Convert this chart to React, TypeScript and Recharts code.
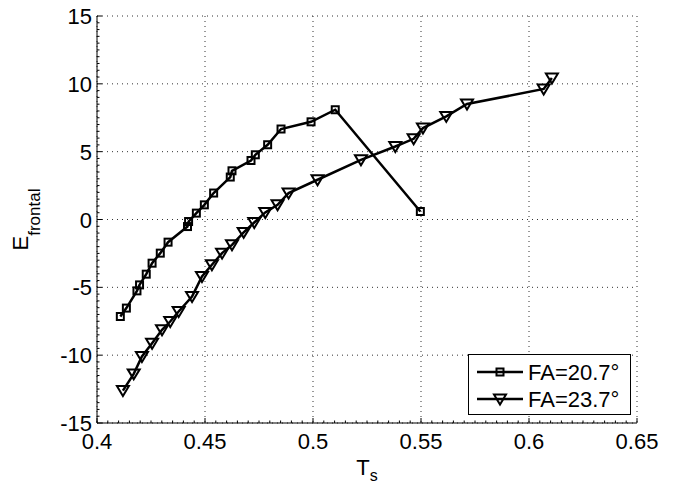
import { LineChart, Line, XAxis, YAxis, CartesianGrid, Legend, Label } from "recharts";

const FONT = "'Liberation Sans', Arial, Helvetica, sans-serif";

// FA = 20.7° series (squares)
const fa207X = [0.4108, 0.4136, 0.4185, 0.4197, 0.4228, 0.4255, 0.4293, 0.4329, 0.4419, 0.4424, 0.446, 0.4497, 0.454, 0.4617, 0.4625, 0.4713, 0.4733, 0.479, 0.4852, 0.4991, 0.5103, 0.5497];
const fa207Y = [-7.15, -6.53, -5.26, -4.82, -4.03, -3.22, -2.48, -1.67, -0.52, -0.15, 0.47, 1.08, 1.95, 3.13, 3.59, 4.35, 4.77, 5.51, 6.67, 7.2, 8.09, 0.59];

// FA = 23.7° series (down triangles)
const fa237X = [0.412, 0.417, 0.4208, 0.4255, 0.4301, 0.4339, 0.4378, 0.444, 0.4486, 0.4532, 0.4579, 0.4625, 0.4679, 0.4728, 0.4779, 0.4836, 0.4887, 0.5021, 0.5222, 0.5381, 0.5466, 0.5509, 0.5617, 0.5713, 0.6068, 0.6106];
const fa237Y = [-12.61, -11.38, -10.1, -9.12, -8.13, -7.52, -6.78, -5.68, -4.2, -3.34, -2.48, -1.87, -0.95, -0.22, 0.52, 1.08, 1.95, 2.93, 4.4, 5.38, 5.95, 6.74, 7.6, 8.51, 9.62, 10.43];

const seriesNames = ["FA=20.7°", "FA=23.7°"];

const xMajor = [0.4, 0.45, 0.5, 0.55, 0.6, 0.65];
const xLabels = ["0.4", "0.45", "0.5", "0.55", "0.6", "0.65"];
const yMajor = [-15, -10, -5, 0, 5, 10, 15];
const yLabels = ["-15", "-10", "-5", "0", "5", "10", "15"];

// minor ticks, matlab style (10 per major interval)
const xMinor = Array.from({ length: 51 }, (_, i) => +(0.4 + i * 0.005).toFixed(4));
const yMinor = Array.from({ length: 61 }, (_, i) => -15 + i * 0.5);

const fa207 = fa207X.map((x, i) => ({ x, y: fa207Y[i] }));
const fa237 = fa237X.map((x, i) => ({ x, y: fa237Y[i] }));

const majorIndex = (list: number[], v: number) => list.findIndex((m) => Math.abs(m - v) < 1e-6);

function XTick({ x, y, payload }: any) {
  const i = majorIndex(xMajor, payload.value);
  return (
    <g>
      <line x1={x} x2={x} y1={y} y2={y - (i >= 0 ? 5 : 2.5)} stroke="#000" strokeWidth={1} />
      {i >= 0 && (
        <text x={x} y={y + 26} textAnchor="middle" fontSize={22} fontFamily={FONT} fill="#000">
          {xLabels[i]}
        </text>
      )}
    </g>
  );
}

function YTick({ x, y, payload }: any) {
  const i = majorIndex(yMajor, payload.value);
  return (
    <g>
      <line x1={x} x2={x + (i >= 0 ? 5 : 2.5)} y1={y} y2={y} stroke="#000" strokeWidth={1} />
      {i >= 0 && (
        <text x={x - 5} y={y + 8} textAnchor="end" fontSize={22} fontFamily={FONT} fill="#000">
          {yLabels[i]}
        </text>
      )}
    </g>
  );
}

function SquareDot({ cx, cy }: any) {
  if (cx == null || cy == null) return null;
  return <rect x={cx - 3.5} y={cy - 3.5} width={7} height={7} fill="none" stroke="#000" strokeWidth={2} />;
}

function TriDot({ cx, cy }: any) {
  if (cx == null || cy == null) return null;
  return (
    <path
      d={`M${cx - 6},${cy - 4.5}L${cx + 6},${cy - 4.5}L${cx},${cy + 5.5}Z`}
      fill="none"
      stroke="#000"
      strokeWidth={2}
      strokeLinejoin="miter"
    />
  );
}

function LegendBox() {
  return (
    <div style={{ width: 163, height: 61, boxSizing: "border-box", border: "1px solid #000", background: "#fff" }}>
      <svg width={161} height={59} style={{ display: "block" }}>
        {seriesNames.map((name, i) => {
          const cy = 17 + i * 27;
          return (
            <g key={name}>
              <line x1={8} x2={54} y1={cy} y2={cy} stroke="#000" strokeWidth={2.5} />
              {i === 0 ? <SquareDot cx={31} cy={cy} /> : <TriDot cx={31} cy={cy} />}
              <text x={59} y={cy + 8} fontSize={22} fontFamily={FONT} fill="#000">
                {name}
              </text>
            </g>
          );
        })}
      </svg>
    </div>
  );
}

export default function App() {
  return (
    <div style={{ position: "absolute", left: 0, top: 0, background: "#fff" }}>
      <LineChart width={681} height={483} margin={{ top: 16, right: 44, bottom: 0, left: 0 }}>
        <CartesianGrid
          stroke="#333"
          strokeDasharray="1 4"
          horizontalValues={yMajor}
          verticalValues={xMajor}
        />
        <XAxis
          type="number"
          dataKey="x"
          domain={[0.4, 0.65]}
          ticks={xMinor}
          interval={0}
          allowDataOverflow
          height={60}
          tickSize={0}
          tickMargin={0}
          tickLine={false}
          tick={<XTick />}
          axisLine={{ stroke: "#000", strokeWidth: 1 }}
        >
          <Label
            content={({ viewBox }: any) => (
              <text x={viewBox.x + viewBox.width / 2} y={viewBox.y + 52} textAnchor="middle" fontFamily={FONT} fill="#000">
                <tspan fontSize={22}>T</tspan>
                <tspan fontSize={16} dy={6}>s</tspan>
              </text>
            )}
          />
        </XAxis>
        <YAxis
          type="number"
          dataKey="y"
          domain={[-15, 15]}
          ticks={yMinor}
          interval={0}
          allowDataOverflow
          width={97}
          tickSize={0}
          tickMargin={0}
          tickLine={false}
          tick={<YTick />}
          axisLine={{ stroke: "#000", strokeWidth: 1 }}
        >
          <Label
            content={({ viewBox }: any) => {
              const cx = 28;
              const cy = viewBox.y + viewBox.height / 2;
              return (
                <text x={cx} y={cy} textAnchor="middle" fontFamily={FONT} fill="#000" transform={`rotate(-90, ${cx}, ${cy})`}>
                  <tspan fontSize={22}>E</tspan>
                  <tspan fontSize={17} dy={12}>frontal</tspan>
                </text>
              );
            }}
          />
        </YAxis>
        <Legend
          layout="vertical"
          align="center"
          verticalAlign="middle"
          content={() => <LegendBox />}
          wrapperStyle={{ position: "absolute", left: 468, top: 354, width: 163 }}
        />
        <Line
          data={fa207}
          dataKey="y"
          name={seriesNames[0]}
          stroke="#000"
          strokeWidth={2.5}
          dot={<SquareDot />}
          isAnimationActive={false}
        />
        <Line
          data={fa237}
          dataKey="y"
          name={seriesNames[1]}
          stroke="#000"
          strokeWidth={2.5}
          dot={<TriDot />}
          isAnimationActive={false}
        />
      </LineChart>
    </div>
  );
}
